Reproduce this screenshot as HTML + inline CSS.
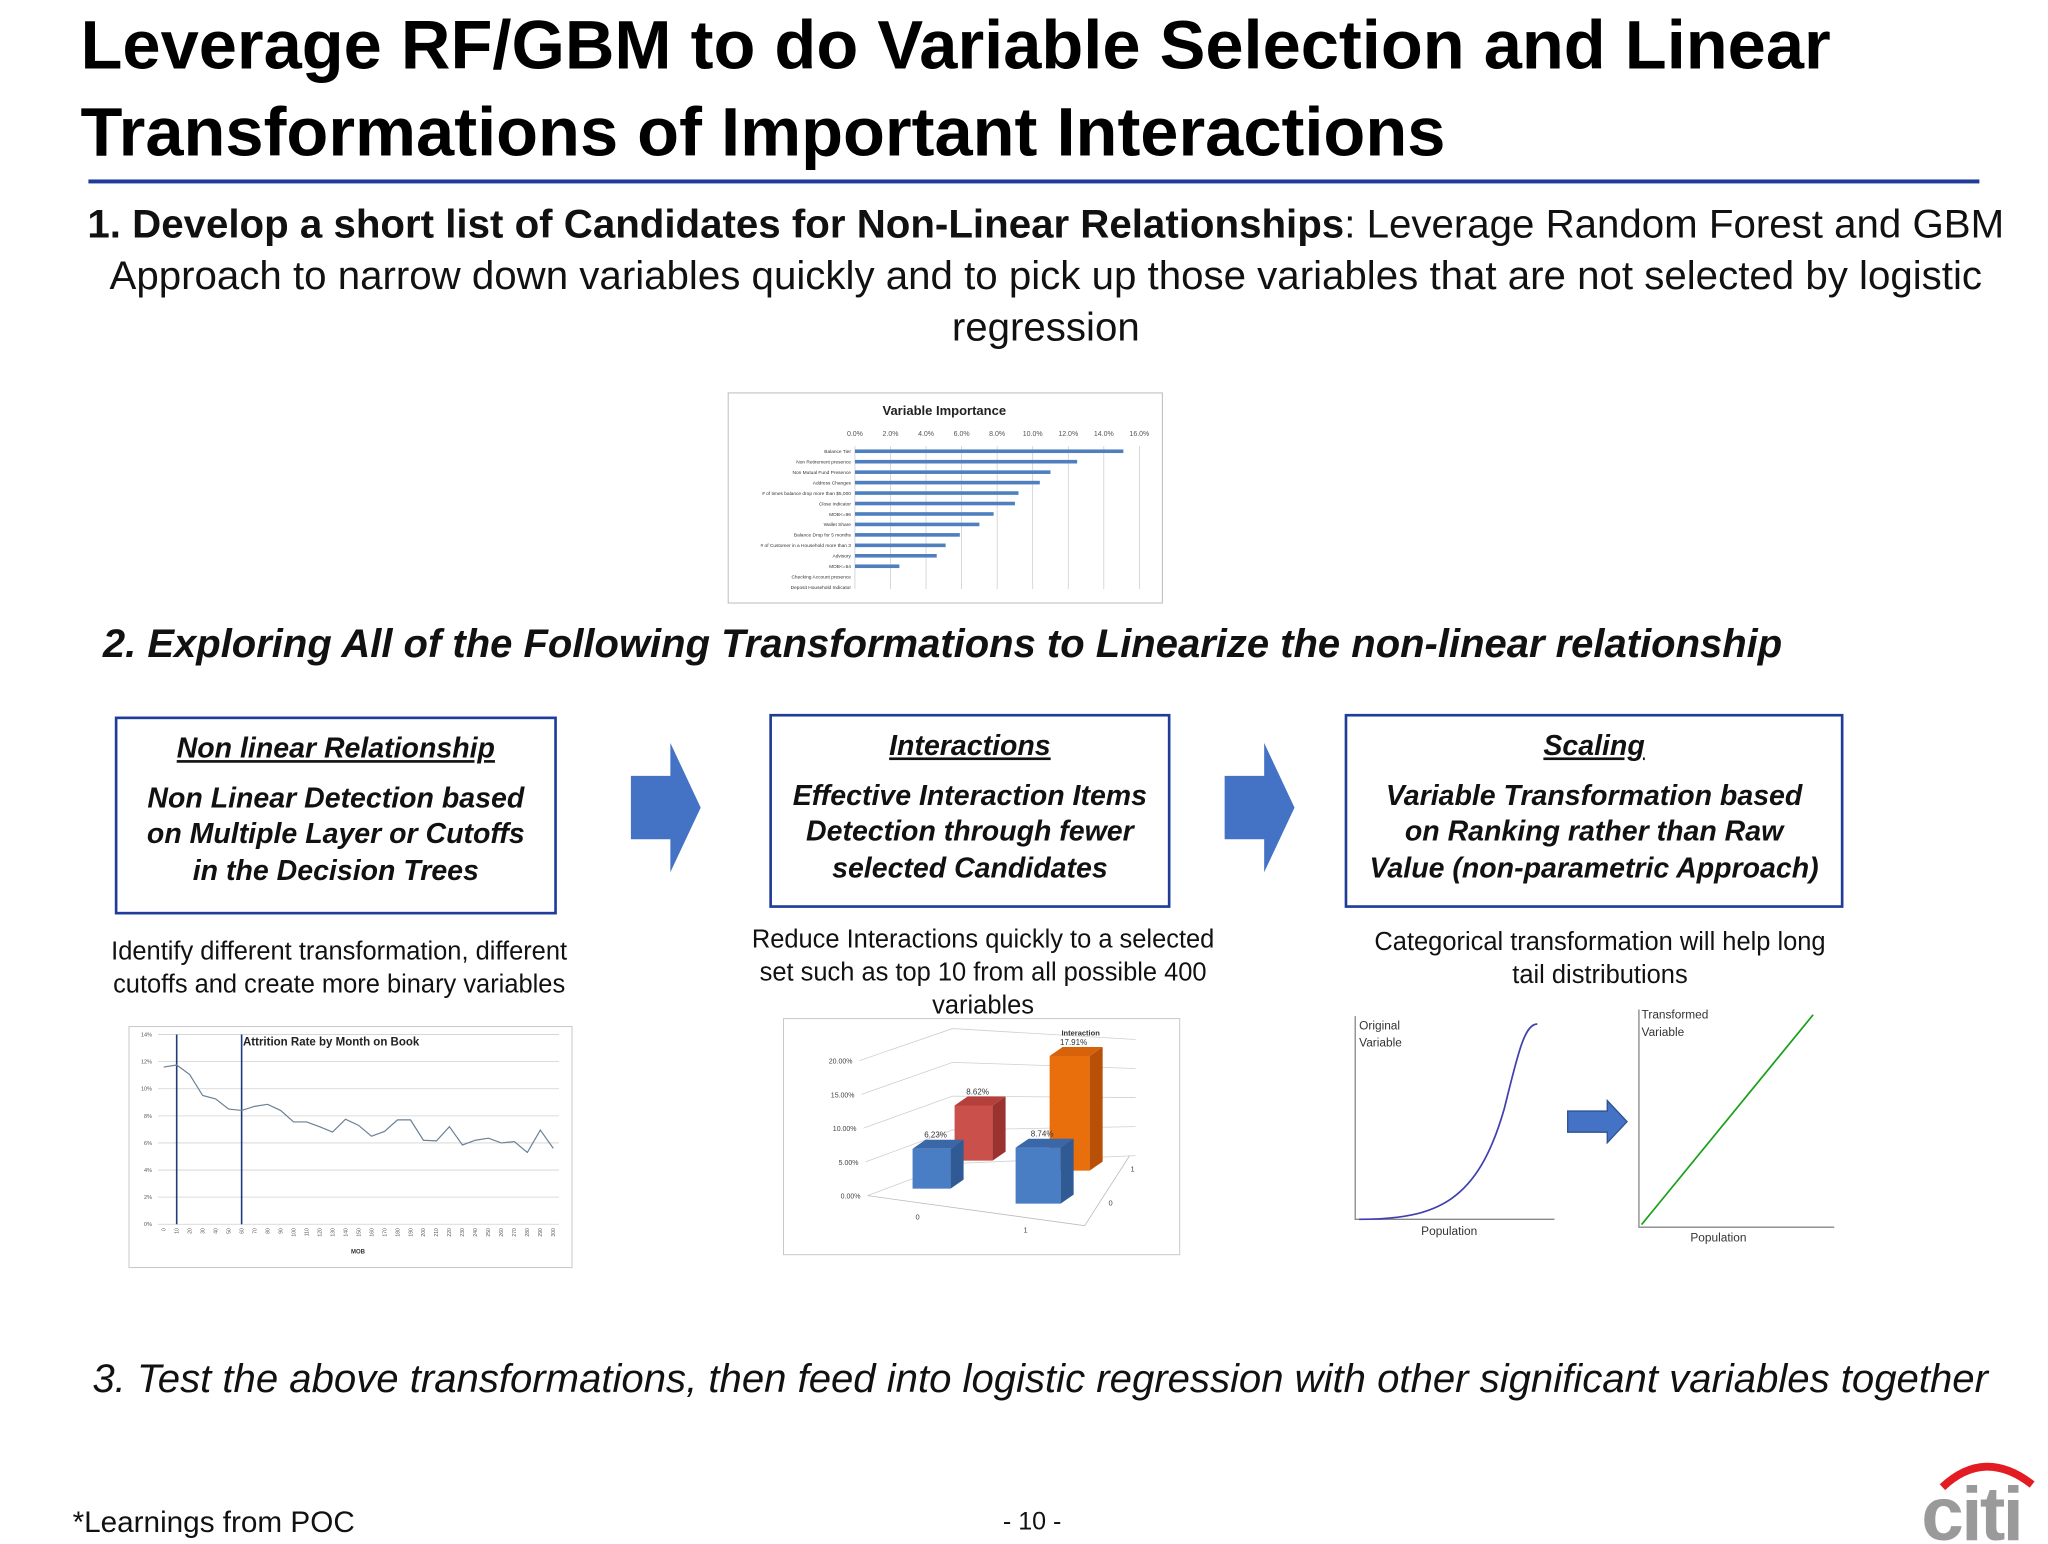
<!DOCTYPE html>
<html><head><meta charset="utf-8">
<style>
html,body{margin:0;padding:0;background:#fff;}
body{width:2048px;height:1536px;overflow:hidden;font-family:"Liberation Sans",Arial,sans-serif;}
#page{position:absolute;left:0;top:0;width:1552px;height:1164px;transform:scale(1.31959);transform-origin:0 0;}
.abs{position:absolute;}
.box{position:absolute;border:2px solid #1f3c99;box-sizing:border-box;text-align:center;font-weight:bold;font-style:italic;font-size:21.6px;line-height:27.5px;color:#111;}
.box u{display:block;margin-top:8px;margin-bottom:10px;}
.cap{position:absolute;text-align:center;font-size:19.3px;line-height:25px;color:#111;}
svg text{font-family:"Liberation Sans",Arial,sans-serif;}
</style></head>
<body>
<div id="page">
<div class="abs" style="left:61px;top:2px;font-size:52px;font-weight:bold;line-height:66px;color:#000;white-space:nowrap;">Leverage RF/GBM to do Variable Selection and Linear<br>Transformations of Important Interactions</div>
<div class="abs" style="left:67px;top:136px;width:1433px;height:3px;background:#1f3c99;"></div>
<div class="abs" style="left:55px;top:151px;width:1475px;text-align:center;font-size:30.5px;line-height:39px;color:#111;"><b>1. Develop a short list of Candidates for Non-Linear Relationships</b>: Leverage Random Forest and GBM Approach to narrow down variables quickly and to pick up those variables that are not selected by logistic regression</div>

<svg class="abs" style="left:551px;top:297px;" width="336" height="163" viewBox="723 389 443 215" id="vi"></svg>

<div class="abs" style="left:78px;top:472px;font-size:30.3px;font-weight:bold;font-style:italic;white-space:nowrap;color:#111;">2. Exploring All of the Following Transformations to Linearize the non-linear relationship</div>

<div class="box" style="left:87px;top:543px;width:335px;height:150px;"><u>Non linear Relationship</u>Non Linear Detection based<br>on Multiple Layer or Cutoffs<br>in the Decision Trees</div>
<div class="box" style="left:583px;top:541px;width:304px;height:147px;"><u>Interactions</u>Effective Interaction Items<br>Detection through fewer<br>selected Candidates</div>
<div class="box" style="left:1019px;top:541px;width:378px;height:147px;"><u>Scaling</u>Variable Transformation based<br>on Ranking rather than Raw<br>Value (non-parametric Approach)</div>

<svg class="abs" style="left:478px;top:563px;" width="53" height="98"><polygon points="0,25 30,25 30,0 53,49 30,98 30,73 0,73" fill="#4472c4"/></svg>
<svg class="abs" style="left:928px;top:563px;" width="53" height="98"><polygon points="0,25 30,25 30,0 53,49 30,98 30,73 0,73" fill="#4472c4"/></svg>

<div class="cap" style="left:72px;top:709px;width:370px;">Identify different transformation, different cutoffs and create more binary variables</div>
<div class="cap" style="left:560px;top:700px;width:370px;">Reduce Interactions quickly to a selected set such as top 10 from all possible 400 variables</div>
<div class="cap" style="left:1030px;top:702px;width:365px;">Categorical transformation will help long tail distributions</div>

<svg class="abs" style="left:97px;top:777px;" width="338" height="186" viewBox="127 1017 446 245" id="att"></svg>
<svg class="abs" style="left:593px;top:771px;" width="304" height="186" viewBox="775 1012 401 245" id="i3d"></svg>

<svg class="abs" style="left:1020px;top:760px;" width="380" height="190" viewBox="1020 760 380 190">
<g>
<polyline points="1027,770 1027,924 1178,924" fill="none" stroke="#888" stroke-width="1"/>
<path d="M1030,924 C1090,924 1120,910 1140,840 C1150,800 1155,776 1165,776" fill="none" stroke="#4040b0" stroke-width="1.3"/>
<text x="1030" y="780" font-size="9" fill="#333">Original</text>
<text x="1030" y="793" font-size="9" fill="#333">Variable</text>
<text x="1077" y="936" font-size="9" fill="#333">Population</text>
</g>
<polygon points="1188,842 1218,842 1218,834 1233,850 1218,866 1218,858 1188,858" fill="#4472c4" stroke="#2f528f" stroke-width="1"/>
<g>
<polyline points="1242,765 1242,930 1390,930" fill="none" stroke="#888" stroke-width="1"/>
<line x1="1244" y1="928" x2="1374" y2="769" stroke="#1aa01a" stroke-width="1.3"/>
<text x="1244" y="772" font-size="9" fill="#333">Transformed</text>
<text x="1244" y="785" font-size="9" fill="#333">Variable</text>
<text x="1281" y="941" font-size="9" fill="#333">Population</text>
</g>
</svg>

<div class="abs" style="left:70px;top:1028px;font-size:30.4px;font-style:italic;white-space:nowrap;color:#111;">3. Test the above transformations, then feed into logistic regression with other significant variables together</div>

<div class="abs" style="left:55px;top:1141px;font-size:22.5px;color:#111;">*Learnings from POC</div>
<div class="abs" style="left:760px;top:1143px;font-size:19px;color:#111;">- 10 -</div>
<svg class="abs" style="left:1452px;top:1105px;" width="98" height="65">
<path d="M20,22 Q52,-8 88,20" fill="none" stroke="#e31c23" stroke-width="6"/>
<text x="4" y="62" font-size="58" font-weight="bold" fill="#9a9a9a" letter-spacing="-2">citi</text>
</svg>
</div>

<script>
const NS="http://www.w3.org/2000/svg";
function mk(parent,tag,attrs,txt){const e=document.createElementNS(NS,tag);for(const k in attrs)e.setAttribute(k,attrs[k]);if(txt!==undefined)e.textContent=txt;parent.appendChild(e);return e;}

/* Variable importance */
const viCategories=["Balance Tier","Non Retirement presence","Non Mutual Fund Presence","Address Changes","# of times balance drop more than $5,000","Close Indicator","MOB<=96","Wallet Share","Balance Drop for 5 months","# of Customer in a Household more than 3","Advisory","MOB<=54","Checking Account presence","Deposit Household Indicator"];
const viValues=[15.1,12.5,11.0,10.4,9.2,9.0,7.8,7.0,5.9,5.1,4.6,2.5,0,0];
const viTicks=[0,2,4,6,8,10,12,14,16];
(function(){
 const s=document.getElementById('vi');
 const x0=850.7,x1=1135,y0=448.3,step=10.45;
 const xs=v=>x0+(x1-x0)*v/16;
 let r=mk(s,'rect',{x:724,y:390,width:434,height:210,fill:'#fff',stroke:'#bbb','stroke-width':1});
 
 let t=mk(s,'text',{x:940,y:412,'font-size':13,'font-weight':'bold','text-anchor':'middle',fill:'#222'},'Variable Importance');
 
 viTicks.forEach(v=>{
  let g=mk(s,'line',{x1:xs(v),x2:xs(v),y1:443,y2:586,stroke:'#c8c8c8','stroke-width':0.7});
  
  let l=mk(s,'text',{x:xs(v),y:433,'font-size':7,'text-anchor':'middle',fill:'#555'},v.toFixed(1)+'%');
  
 });
 viCategories.forEach((c,i)=>{
  const y=y0+i*step;
  let l=mk(s,'text',{x:x0-4,y:y+1.8,'font-size':4.8,'text-anchor':'end',fill:'#333'},c);
  
  let b=mk(s,'rect',{x:x0,y:y-1.8,width:Math.max(0,xs(viValues[i])-x0),height:3.6,fill:'#4f7fbf'});
  
 });
})();

/* Attrition */
const attMob=[0,10,20,30,40,50,60,70,80,90,100,110,120,130,140,150,160,170,180,190,200,210,220,230,240,250,260,270,280,290,300];
const attRate=[11.6,11.75,11.05,9.5,9.25,8.5,8.4,8.7,8.85,8.4,7.55,7.55,7.2,6.8,7.75,7.3,6.5,6.85,7.7,7.7,6.2,6.15,7.2,5.85,6.2,6.35,6.0,6.1,5.3,6.95,5.6];
const attYTicks=[0,2,4,6,8,10,12,14];
const attCutoffs=[10,60];
(function(){
 const s=document.getElementById('att');
 const xs=m=>162.7+(552.3-162.7)*m/300;
 const ys=v=>1215.7-(1215.7-1026)*v/14;
 let r=mk(s,'rect',{x:128,y:1018,width:443,height:241,fill:'#fff',stroke:'#c8c8c8','stroke-width':1});
 
 attYTicks.forEach(v=>{
  let g=mk(s,'line',{x1:157,x2:558,y1:ys(v),y2:ys(v),stroke:'#d0d0d0','stroke-width':0.8});
  
  let l=mk(s,'text',{x:151,y:ys(v)+2,'font-size':5.5,'text-anchor':'end',fill:'#555'},v+'%');
  
 });
 attMob.forEach(m=>{
  let l=mk(s,'text',{x:0,y:0,'font-size':5,'text-anchor':'end',fill:'#555',transform:`translate(${xs(m)+1.8},${ys(0)+4}) rotate(-90)`},String(m));
  
 });
 attCutoffs.forEach(m=>{
  let v=mk(s,'line',{x1:xs(m),x2:xs(m),y1:ys(14),y2:ys(0),stroke:'#1f3c7a','stroke-width':1.6});
  
 });
 let p=mk(s,'polyline',{points:attMob.map((m,i)=>xs(m)+','+ys(attRate[i])).join(' '),fill:'none',stroke:'#6a8196','stroke-width':1.2});
 
 let t=mk(s,'text',{x:242,y:1037,'font-size':11.5,'font-weight':'bold',fill:'#222'},'Attrition Rate by Month on Book');
 
 let xl=mk(s,'text',{x:357,y:1245,'font-size':6,'font-weight':'bold','text-anchor':'middle',fill:'#333'},'MOB');
 
})();

/* 3D interaction */
const intLabels=["6.23%","8.62%","8.74%","17.91%"];
const intValues=[6.23,8.62,8.74,17.91];
const intYTicks=[0,5,10,15,20];
(function(){
 const s=document.getElementById('i3d');
 const k=6.4;
 let r=mk(s,'rect',{x:776,y:1013,width:396,height:236,fill:'#fff',stroke:'#c8c8c8','stroke-width':1});
 
 intYTicks.forEach(v=>{
  const d=v*6.75;
  let g=mk(s,'polyline',{points:`${860-v*0.4},${1190-d} ${945},${1158-d} ${1128},${1150-d*0.86}`,fill:'none',stroke:'#cfcfcf','stroke-width':0.8});
  
  let l=mk(s,'text',{x:853-v*0.4,y:1193-d,'font-size':7,'text-anchor':'end',fill:'#444'},v.toFixed(2)+'%');
  
 });
 let f=mk(s,'polyline',{points:'860,1190 1077,1220 1122,1150',fill:'none',stroke:'#bbb','stroke-width':0.8});
 
 const pos=[[905,1183,38],[947,1155,38],[1008,1198,45],[1042,1165,40]];
 const cols=[['#4a7ec4','#3a67a8','#2f5a94'],['#c9504b','#b5403b','#9a3230'],['#4a7ec4','#3a67a8','#2f5a94'],['#e86f0c','#d7620a','#b85008']];
 const order=[1,3,0,2];
 order.forEach(i=>{
  const [x,y,w]=pos[i],h=intValues[i]*k,dx=13,dy=-9;
  const c=cols[i];
  let g=mk(s,'g',{});
  
  mk(g,'rect',{x:x,y:y-h,width:w,height:h,fill:c[0]});
  mk(g,'polygon',{points:`${x},${y-h} ${x+dx},${y-h+dy} ${x+w+dx},${y-h+dy} ${x+w},${y-h}`,fill:c[1]});
  mk(g,'polygon',{points:`${x+w},${y-h} ${x+w+dx},${y-h+dy} ${x+w+dx},${y+dy} ${x+w},${y}`,fill:c[2]});
  let l=mk(s,'text',{x:x+w/2+4,y:y-h+dy-2,'font-size':8,'text-anchor':'middle',fill:'#333'},intLabels[i]);
  
 });
 [['0',910,1214],['1',1018,1227],['0',1103,1200],['1',1125,1166]].forEach(a=>{
  let l=mk(s,'text',{x:a[1],y:a[2],'font-size':7.5,'text-anchor':'middle',fill:'#444'},a[0]);
  
 });
 let t=mk(s,'text',{x:1073,y:1030,'font-size':7.5,'font-weight':'bold','text-anchor':'middle',fill:'#333'},'Interaction');
 
})();
</script>
</body></html>
